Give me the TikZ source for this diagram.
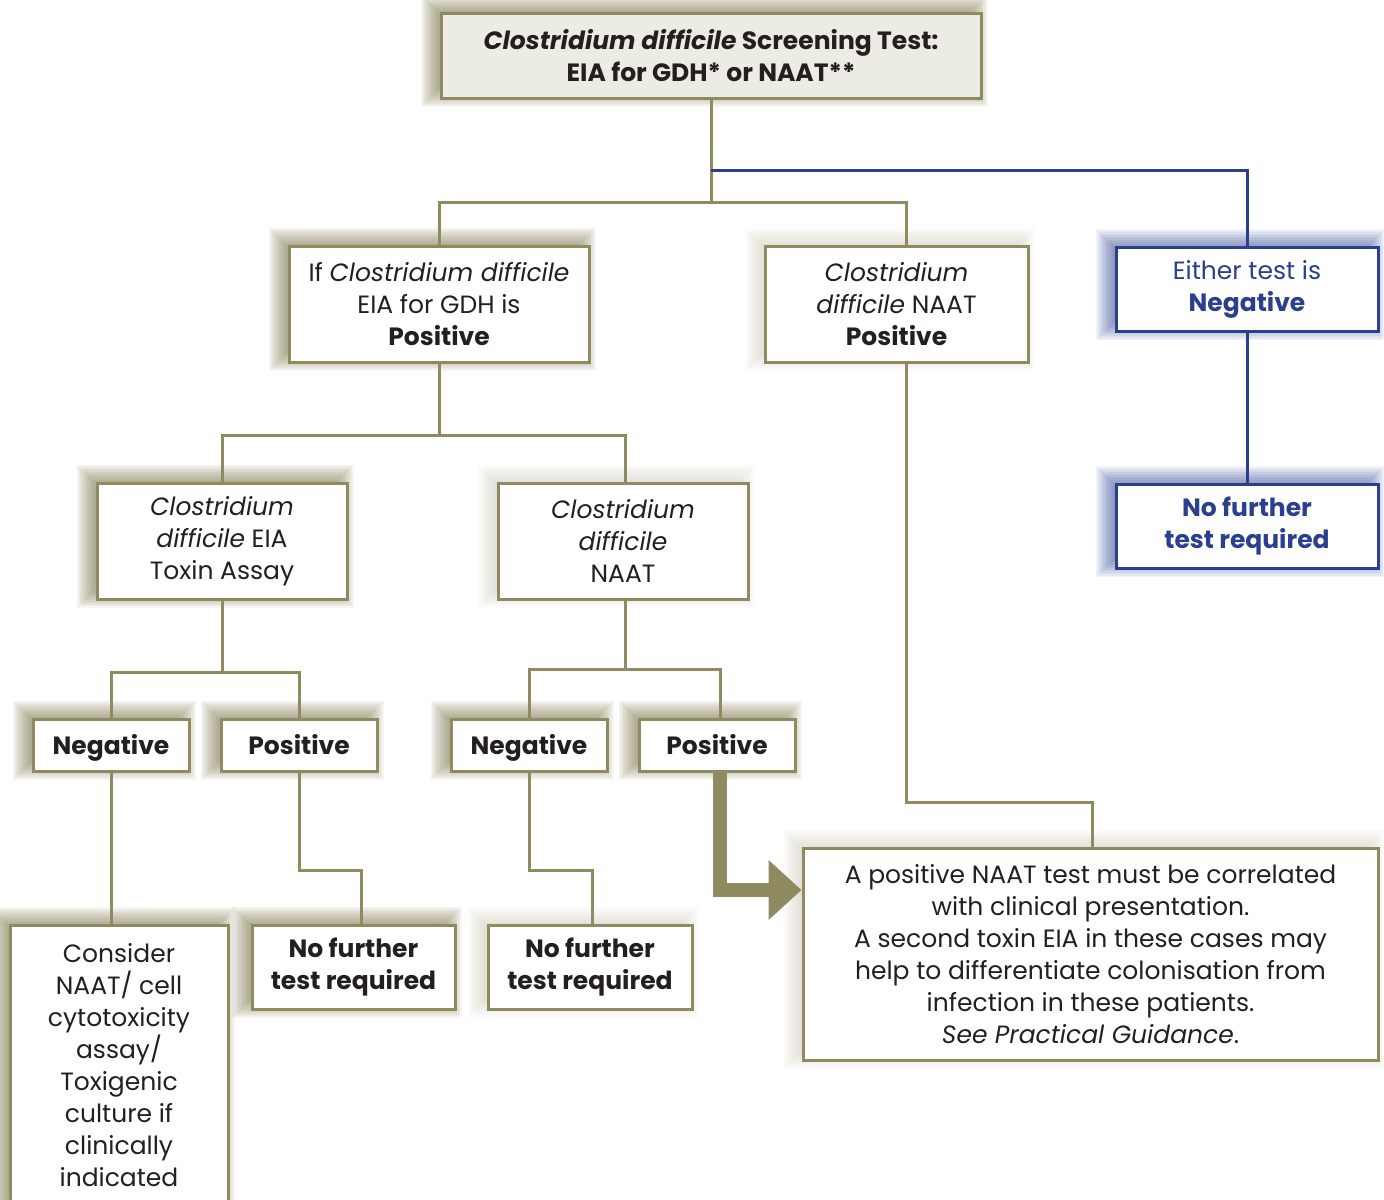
\documentclass[tikz,border=0pt]{standalone}
\usepackage{fontspec}
\setmainfont{Poppins}
\usepackage{xcolor}
\usetikzlibrary{arrows.meta,backgrounds}
\definecolor{olv}{RGB}{143,138,96}
\definecolor{olvshade}{RGB}{125,118,74}
\definecolor{nhsblue}{RGB}{43,63,143}
\definecolor{paper}{RGB}{236,236,228}
\definecolor{ink}{RGB}{35,31,32}

\begin{document}
\begin{tikzpicture}[x=0.5pt,y=-0.5pt]
\tikzstyle{every node}+=[inner sep=0pt, align=center, text=ink, font=\fontsize{12.5}{16}\selectfont]
\tikzstyle{box}=[draw=olv, line width=1.5pt, fill=white]
\tikzstyle{bluebox}=[draw=nhsblue, line width=1.5pt, fill=white, text=nhsblue]
\tikzstyle{result}=[box, minimum width=78pt, minimum height=26pt, text height=10.5pt, text depth=1.5pt, font=\fontsize{12.5}{16}\selectfont\bfseries]
\tikzstyle{olvline}=[draw=olv, line width=1.5pt]
\tikzstyle{blueline}=[draw=nhsblue, line width=1.5pt]
\tikzstyle{bigarrow}=[draw=olv, line width=7pt, -{Triangle[length=16.5pt,width=29pt]}]
\useasboundingbox (0,0) rectangle (1384,1199);

% boxes
\node[box, fill=paper, minimum width=270pt, minimum height=42.5pt, font=\fontsize{12.5}{16}\selectfont\bfseries] (top) at (711,55.5)
  {\textit{Clostridium difficile} Screening Test:\\EIA for GDH* or NAAT**};
\node[box, minimum width=150pt, minimum height=58pt] (gdh) at (439,304)
  {If \textit{Clostridium difficile}\\EIA for GDH is\\\textbf{Positive}};
\node[box, minimum width=131.5pt, minimum height=58pt] (naatpos) at (896.5,304)
  {\textit{Clostridium}\\\textit{difficile} NAAT\\\textbf{Positive}};
\node[bluebox, minimum width=131pt, minimum height=42pt] (eithneg) at (1247,289.5)
  {Either test is\\\textbf{Negative}};
\node[bluebox, minimum width=131pt, minimum height=42pt, font=\fontsize{12.5}{16}\selectfont\bfseries] (nofurthC) at (1247,526.5)
  {No further\\test required};
\node[box, minimum width=125pt, minimum height=58pt] (toxin) at (222,541)
  {\textit{Clostridium}\\\textit{difficile} EIA\\Toxin Assay};
\node[box, minimum width=125pt, minimum height=58pt] (naat) at (623,541)
  {\textit{Clostridium}\\\textit{difficile}\\NAAT};
\node[result] (tneg) at (111,745) {Negative};
\node[result] (tpos) at (299,745) {Positive};
\node[result] (nneg) at (529,745) {Negative};
\node[result] (npos) at (717,745) {Positive};
\node[box, anchor=north, minimum width=109pt, minimum height=140pt] (consider) at (119,924)
  {Consider\\NAAT/ cell\\cytotoxicity\\assay/\\Toxigenic\\culture if\\clinically\\indicated};
\node[box, minimum width=101.5pt, minimum height=42pt, font=\fontsize{12.5}{16}\selectfont\bfseries] (nofurthA) at (353.5,967)
  {No further\\test required};
\node[box, minimum width=102pt, minimum height=42pt, font=\fontsize{12.5}{16}\selectfont\bfseries] (nofurthB) at (590,967)
  {No further\\test required};
\node[box, minimum width=287.5pt, minimum height=106pt] (note) at (1090.5,954)
  {A positive NAAT test must be correlated\\with clinical presentation.\\A second toxin EIA in these cases may\\help to differentiate colonisation from\\infection in these patients.\\\textit{See Practical Guidance}.};

% soft shadows
\begin{scope}[on background layer]
\foreach \n in {top,gdh,toxin,tneg,tpos,nneg,npos,consider,nofurthA}
  \foreach \d in {-3,-2.25,...,6}
    \fill[olvshade, opacity=0.07] ([xshift={-3.5pt-\d pt}, yshift={2.5pt+\d pt}]\n.north west) rectangle ([xshift={-3.5pt+\d pt}, yshift={2.5pt-\d pt}]\n.south east);
\foreach \n in {naatpos,naat,nofurthB,note}
  \foreach \d in {-3,-2.25,...,6}
    \fill[olvshade, opacity=0.018] ([xshift={-3.5pt-\d pt}, yshift={2.5pt+\d pt}]\n.north west) rectangle ([xshift={-3.5pt+\d pt}, yshift={2.5pt-\d pt}]\n.south east);
\foreach \n in {eithneg,nofurthC}
  \foreach \d in {-3,-2.25,...,6}
    \fill[nhsblue, opacity=0.06] ([xshift={-3.5pt-\d pt}, yshift={2.5pt+\d pt}]\n.north west) rectangle ([xshift={-3.5pt+\d pt}, yshift={2.5pt-\d pt}]\n.south east);
\end{scope}

% connectors
\draw[olvline] (top.south) -- (711,202);
\draw[olvline] (gdh.north) |- (711,202) -| ([xshift=4.75pt]naatpos.north);
\draw[blueline] (711,170) -| (eithneg.north);
\draw[blueline] (eithneg.south) -- (nofurthC.north);
\draw[olvline] (gdh.south) -- (gdh.south |- 0,435);
\draw[olvline] (toxin.north) |- (gdh.south |- 0,435) -| ([xshift=1pt]naat.north);
\draw[olvline] (toxin.south) -- (toxin.south |- 0,672);
\draw[olvline] (tneg.north) |- (toxin.south |- 0,672) -| (tpos.north);
\draw[olvline] ([xshift=1pt]naat.south) -- ([xshift=1pt]naat.south |- 0,669);
\draw[olvline] (nneg.north) |- ([xshift=1pt]naat.south |- 0,669) -| ([xshift=1.5pt]npos.north);
\draw[olvline] (tneg.south) -- (tneg.south |- consider.north);
\draw[olvline] (tpos.south) |- (330,870) -| ([xshift=3.75pt]nofurthA.north);
\draw[olvline] (nneg.south) |- (560,870) -| ([xshift=1pt]nofurthB.north);
\draw[olvline] ([xshift=4.75pt]naatpos.south) |- (1000,802) -| ([xshift=0.75pt]note.north);
\draw[bigarrow] ([xshift=1.5pt]npos.south) |- ([yshift=32pt]note.west);
\end{tikzpicture}
\end{document}
